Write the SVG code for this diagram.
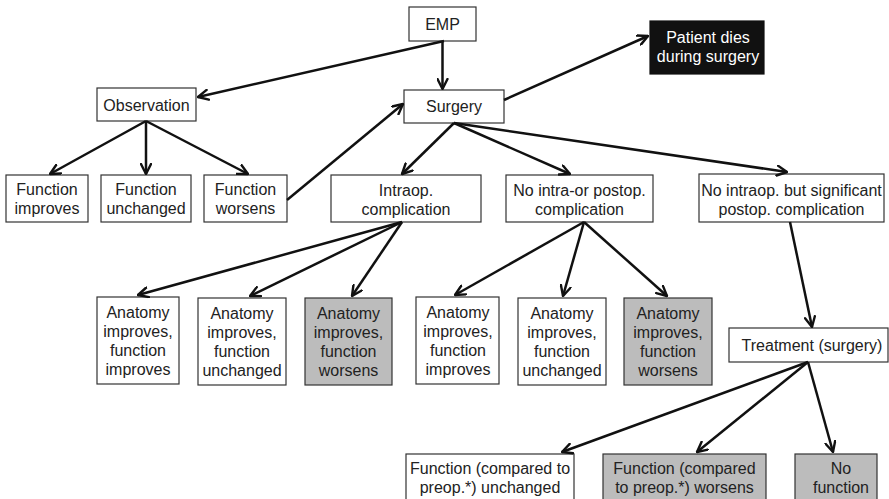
<svg xmlns="http://www.w3.org/2000/svg" width="889" height="499" viewBox="0 0 889 499">
<defs>
<marker id="arr" viewBox="0 0 12 12" markerWidth="12" markerHeight="12" refX="11" refY="6" orient="auto" markerUnits="userSpaceOnUse">
<path d="M1,1 L11,6 L1,11" fill="none" stroke="#111" stroke-width="2.4" stroke-linejoin="round" stroke-linecap="round"/>
</marker>
<style>
.box{fill:#fff;stroke:#333;stroke-width:1.2}
.gray{fill:#bcbcbc;stroke:#333;stroke-width:1.2}
.dark{fill:#111;stroke:#111;stroke-width:1.2}
text{font-family:"Liberation Sans",Arial,sans-serif;font-size:16px;fill:#222;text-anchor:middle}
.wt{fill:#fff}
.conn line{stroke:#111;stroke-width:2.5;marker-end:url(#arr)}
</style>
</defs>
<rect width="889" height="499" fill="#fff"/>

<g id="emp"><rect class="box" x="409" y="7" width="67" height="34"/><text x="442.5" y="29.5">EMP</text></g>
<g id="patient-dies"><rect class="dark" x="650" y="21" width="114" height="53"/><text class="wt" x="708" y="42.5">Patient dies</text><text class="wt" x="708" y="62">during surgery</text></g>
<g id="observation"><rect class="box" x="97" y="88" width="99" height="33"/><text x="146.5" y="110.5">Observation</text></g>
<g id="surgery"><rect class="box" x="404" y="90" width="100" height="33"/><text x="454" y="112">Surgery</text></g>

<g id="func-improves"><rect class="box" x="6" y="175" width="82" height="47"/><text x="47" y="195">Function</text><text x="47" y="214">improves</text></g>
<g id="func-unchanged"><rect class="box" x="101" y="175" width="90" height="47"/><text x="146" y="195">Function</text><text x="146" y="214">unchanged</text></g>
<g id="func-worsens"><rect class="box" x="204" y="175" width="83" height="47"/><text x="245.5" y="195">Function</text><text x="245.5" y="214">worsens</text></g>

<g id="intraop"><rect class="box" x="331" y="175" width="150" height="47"/><text x="406" y="195.5">Intraop.</text><text x="406" y="214.5">complication</text></g>
<g id="no-complication"><rect class="box" x="506" y="175" width="147" height="47"/><text x="579.5" y="195.5">No intra-or postop.</text><text x="579.5" y="214.5">complication</text></g>
<g id="postop"><rect class="box" x="699" y="174" width="185" height="48"/><text x="791.5" y="195.5">No intraop. but significant</text><text x="791.5" y="214.5">postop. complication</text></g>

<g id="a1"><rect class="box" x="97" y="297" width="82" height="87"/><text x="138" y="317.5">Anatomy</text><text x="138" y="336.5">improves,</text><text x="138" y="355.5">function</text><text x="138" y="374.5">improves</text></g>
<g id="a2"><rect class="box" x="198" y="298" width="88" height="87"/><text x="242" y="318.5">Anatomy</text><text x="242" y="337.5">improves,</text><text x="242" y="356.5">function</text><text x="242" y="375.5">unchanged</text></g>
<g id="a3"><rect class="gray" x="305" y="298" width="87" height="87"/><text x="348.5" y="318.5">Anatomy</text><text x="348.5" y="337.5">improves,</text><text x="348.5" y="356.5">function</text><text x="348.5" y="375.5">worsens</text></g>
<g id="a4"><rect class="box" x="416" y="297" width="83" height="87"/><text x="458" y="317.5">Anatomy</text><text x="458" y="336.5">improves,</text><text x="458" y="355.5">function</text><text x="458" y="374.5">improves</text></g>
<g id="a5"><rect class="box" x="518" y="298" width="88" height="87"/><text x="562" y="318.5">Anatomy</text><text x="562" y="337.5">improves,</text><text x="562" y="356.5">function</text><text x="562" y="375.5">unchanged</text></g>
<g id="a6"><rect class="gray" x="624" y="298" width="88" height="87"/><text x="668" y="318.5">Anatomy</text><text x="668" y="337.5">improves,</text><text x="668" y="356.5">function</text><text x="668" y="375.5">worsens</text></g>

<g id="treatment"><rect class="box" x="729" y="328" width="159" height="34"/><text x="812" y="350.5">Treatment (surgery)</text></g>

<g id="b1"><rect class="box" x="406" y="454" width="168" height="50"/><text x="490" y="473.5">Function (compared to</text><text x="490" y="492.5">preop.*) unchanged</text></g>
<g id="b2"><rect class="gray" x="603" y="454" width="163" height="50"/><text x="684.5" y="473.5">Function (compared</text><text x="684.5" y="492.5">to preop.*) worsens</text></g>
<g id="b3"><rect class="gray" x="795" y="454" width="82" height="50"/><text x="841" y="473.5">No</text><text x="841" y="492.5">function</text></g>

<g id="connectors" class="conn">
<line x1="442.5" y1="41" x2="442.5" y2="89"/>
<line x1="444" y1="41" x2="198" y2="97"/>
<line x1="146" y1="121" x2="50" y2="174"/>
<line x1="146" y1="121" x2="146" y2="174"/>
<line x1="146" y1="121" x2="248" y2="174"/>
<line x1="287" y1="200" x2="403" y2="104"/>
<line x1="504" y1="100" x2="648" y2="36"/>
<line x1="454" y1="123" x2="402" y2="174"/>
<line x1="454" y1="123" x2="570" y2="174"/>
<line x1="454" y1="123" x2="787" y2="172"/>
<line x1="402" y1="222" x2="138" y2="295"/>
<line x1="402" y1="222" x2="250" y2="296"/>
<line x1="402" y1="222" x2="352" y2="296"/>
<line x1="584" y1="222" x2="455" y2="295"/>
<line x1="584" y1="222" x2="563" y2="296"/>
<line x1="584" y1="222" x2="667" y2="296"/>
<line x1="790" y1="222" x2="812" y2="327"/>
<line x1="808" y1="362" x2="562" y2="452"/>
<line x1="808" y1="362" x2="697" y2="452"/>
<line x1="808" y1="362" x2="833" y2="452"/>
</g>
</svg>
